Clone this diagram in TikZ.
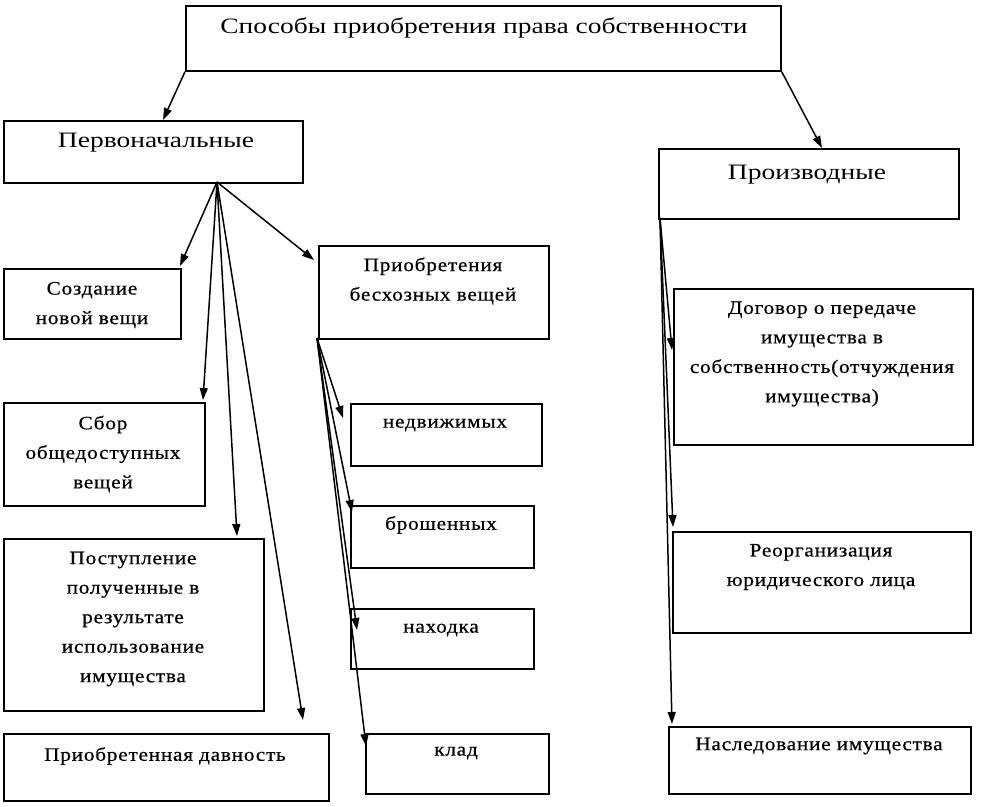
\documentclass[tikz,border=0pt]{standalone}
\usepackage{fontspec}
\setmainfont{Liberation Serif}
\newfontfamily\headfont[FakeStretch=1.25]{Liberation Serif}
\newfontfamily\bodyfont[FakeStretch=1.12,LetterSpace=4,FakeBold=0.6]{Liberation Serif}
\usetikzlibrary{arrows.meta}
\begin{document}
\begin{tikzpicture}[x=1pt,y=-1pt,
  box/.style={draw, line width=1.7pt, anchor=north west, inner sep=0pt},
  head/.style={font=\headfont\fontsize{22}{26}\selectfont, inner sep=0pt},
  body/.style={font=\bodyfont\fontsize{19}{29.5}\selectfont, align=center, inner sep=0pt},
  arr/.style={line width=1.5pt, -{Triangle[length=12pt,width=8pt]}}]
\useasboundingbox[fill=white] (0,0) rectangle (982,806);

% boxes
\node[box, minimum width=595pt, minimum height=65pt] (top) at (185,5) {};
\node[box, minimum width=299pt, minimum height=62pt] (perv) at (3,120) {};
\node[box, minimum width=300pt, minimum height=70pt] (proiz) at (658,148) {};
\node[box, minimum width=177pt, minimum height=70pt] (sozd) at (3,268) {};
\node[box, minimum width=201pt, minimum height=103pt] (sbor) at (3,402) {};
\node[box, minimum width=260pt, minimum height=172pt] (post) at (3,538) {};
\node[box, minimum width=325pt, minimum height=67pt] (davn) at (3,733) {};
\node[box, minimum width=230pt, minimum height=93pt] (besh) at (318,245) {};
\node[box, minimum width=191pt, minimum height=62pt] (nedv) at (350,403) {};
\node[box, minimum width=183pt, minimum height=62pt] (brosh) at (350,505) {};
\node[box, minimum width=183pt, minimum height=60pt] (nahod) at (350,608) {};
\node[box, minimum width=183pt, minimum height=60pt] (klad) at (365,733) {};
\node[box, minimum width=299pt, minimum height=156pt] (dog) at (673,288) {};
\node[box, minimum width=298pt, minimum height=101pt] (reorg) at (672,531) {};
\node[box, minimum width=302pt, minimum height=67pt] (nasl) at (668,726) {};

% texts
\node[head] (topT) at (484,28) {Способы приобретения права собственности};
\node[head] (pervT) at (156,143) {Первоначальные};
\node[head] (proizT) at (807,175) {Производные};
\node[body] (sozdT) at (92,305) {Создание\\новой вещи};
\node[body] (sborT) at (103,454) {Сбор\\общедоступных\\вещей};
\node[body] (postT) at (133,619) {Поступление\\полученные в\\результате\\использование\\имущества};
\node[body] (davnT) at (165,756) {Приобретенная давность};
\node[body] (beshT) at (433,281) {Приобретения\\бесхозных вещей};
\node[body] (nedvT) at (445,425) {недвижимых};
\node[body] (broshT) at (441,525) {брошенных};
\node[body] (nahodT) at (441,630) {находка};
\node[body] (kladT) at (456,753) {клад};
\node[body] (dogT) at (822,354) {Договор о передаче\\имущества в\\собственность(отчуждения\\имущества)};
\node[body] (reorgT) at (821,567) {Реорганизация\\юридического лица};
\node[body] (naslT) at (819,746) {Наследование имущества};

% connector coordinates
\coordinate (pf) at (217,182);
\coordinate (bf) at (317,338);
\coordinate (df) at (660,218);
\coordinate (eSozd) at (180,266);
\coordinate (eSbor) at (203,400);
\coordinate (ePost) at (237,536);
\coordinate (eDavn) at (303,720);
\coordinate (eBesh) at (314,260);
\coordinate (eNedv) at (343,418);
\coordinate (eBrosh) at (352,512);
\coordinate (eNahod) at (357,630);
\coordinate (eKlad) at (366,746);
\coordinate (eDog) at (672,350);
\coordinate (eReorg) at (673,527);
\coordinate (eNasl) at (672,724);
\coordinate (eTopL) at (163,120);
\coordinate (eTopR) at (822,148);

% connectors
\draw[arr] (top.south west) -- (eTopL);
\draw[arr] (top.south east) -- (eTopR);
\draw[arr] (pf) -- (eSozd);
\draw[arr] (pf) -- (eSbor);
\draw[arr] (pf) -- (ePost);
\draw[arr] (pf) -- (eDavn);
\draw[arr] (pf) -- (eBesh);
\draw[arr] (bf) -- (eNedv);
\draw[arr] (bf) -- (eBrosh);
\draw[arr] (bf) -- (eNahod);
\draw[arr] (bf) -- (eKlad);
\draw[arr] (df) -- (eDog);
\draw[arr] (df) -- (eReorg);
\draw[arr] (df) -- (eNasl);
\end{tikzpicture}
\end{document}
